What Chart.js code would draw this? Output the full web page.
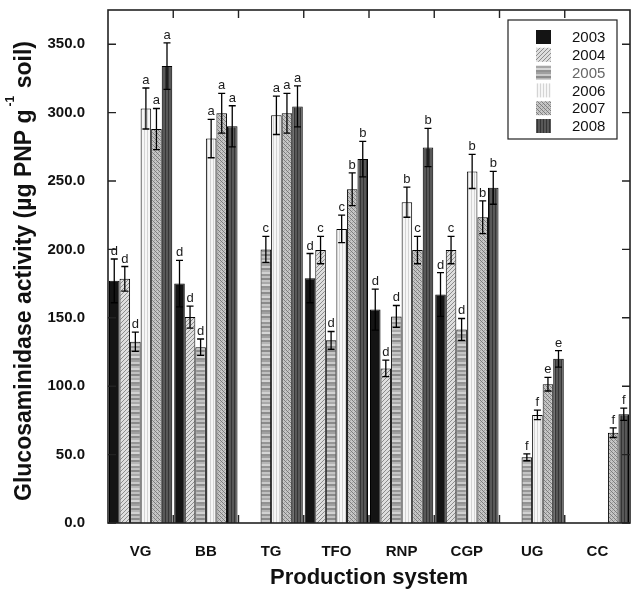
<!DOCTYPE html>
<html>
<head>
<meta charset="utf-8">
<script src="https://cdn.jsdelivr.net/npm/chart.js@4.4.1/dist/chart.umd.min.js"></script>
<style>
html,body{margin:0;padding:0;background:#fff;}
#wrap{width:636px;height:595px;}
</style>
</head>
<body>
<div id="wrap"><canvas id="c" width="636" height="595"></canvas></div>
<script>
const systems=["VG","BB","TG","TFO","RNP","CGP","UG","CC"];
const years=["2003","2004","2005","2006","2007","2008"];

// means (µg PNP g-1 soil)
const v2003=[177,175,null,179,156,167,null,null];
const v2004=[178.5,150.5,null,199.5,113,199.5,null,null];
const v2005=[132.5,128.5,200,133.5,151,141.5,48,null];
const v2006=[303,281,298,215,234.5,257,79,null];
const v2007=[288,299.5,299.5,244,199.5,223.5,101.5,66];
const v2008=[334,290,304.5,266,274.5,245,120,79.5];

// error bar half-heights
const e2003=[16,17,null,18,15,16,null,null];
const e2004=[9,8,null,10,6,10,null,null];
const e2005=[7,6,9.5,6.5,8,8,2.5,null];
const e2006=[15,14,14,10,11,12.5,3.5,null];
const e2007=[15,14.5,14.5,12,10,12,5,3.5];
const e2008=[17,15,15,13,14,12,6,4.5];

// significance letters
const l2003=["d","d","","d","d","d","",""];
const l2004=["d","d","","c","d","c","",""];
const l2005=["d","d","c","d","d","d","f",""];
const l2006=["a","a","a","c","b","b","f",""];
const l2007=["a","a","a","b","c","b","e","f"];
const l2008=["a","a","a","b","b","b","e","f"];

const yTicks=[0,50,100,150,200,250,300,350];

const VALUES=[v2003,v2004,v2005,v2006,v2007,v2008];
const ERRS=[e2003,e2004,e2005,e2006,e2007,e2008];
const LETTERS=[l2003,l2004,l2005,l2006,l2007,l2008];

const FONT="'Liberation Sans', Arial, Helvetica, sans-serif";
const canvas=document.getElementById("c");
const ctx=canvas.getContext("2d");

function makePattern(w,h,draw){
  const c=document.createElement("canvas");
  c.width=w;c.height=h;
  const g=c.getContext("2d");
  draw(g,w,h);
  return ctx.createPattern(c,"repeat");
}

const fills=[
  "#141414",
  makePattern(4,4,(g,w,h)=>{
    g.fillStyle="#dedede";g.fillRect(0,0,w,h);
    g.fillStyle="#8c8c8c";
    for(let i=0;i<4;i++)g.fillRect(i,3-i,1,1);
  }),
  makePattern(4,24,(g,w,h)=>{
    const rows=["#a0a0a0","#cacaca","#8c8c8c","#b6b6b6","#d2d2d2","#969696","#c0c0c0","#8a8a8a","#c4c4c4","#a8a8a8","#d6d6d6","#929292"];
    rows.forEach((col,i)=>{g.fillStyle=col;g.fillRect(0,i*2,w,2);});
  }),
  makePattern(3,1,(g,w,h)=>{
    g.fillStyle="#f6f6f6";g.fillRect(0,0,w,h);
    g.fillStyle="#d4d4d4";g.fillRect(0,0,1,1);
  }),
  makePattern(4,4,(g,w,h)=>{
    g.fillStyle="#c6c6c6";g.fillRect(0,0,w,h);
    g.fillStyle="#7c7c7c";
    for(let i=0;i<4;i++)g.fillRect(i,i,1,1);
    g.fillStyle="#a4a4a4";
    g.fillRect(2,0,1,1);g.fillRect(0,2,1,1);
  }),
  makePattern(3,1,(g,w,h)=>{
    g.fillStyle="#585858";g.fillRect(0,0,w,h);
    g.fillStyle="#353535";g.fillRect(0,0,1,1);
  })
];

const datasets=years.map((yr,i)=>({
  label:yr,
  data:VALUES[i],
  backgroundColor:fills[i],
  borderColor:"#000",
  borderWidth:1,
  barPercentage:1,
  categoryPercentage:0.97
}));

const decorations={
  id:"decorations",
  afterDatasetsDraw(chart){
    const g=chart.ctx;
    const area=chart.chartArea;
    const x=chart.scales.x,y=chart.scales.y;
    g.save();

    // error bars and letters
    g.strokeStyle="#000";
    g.lineWidth=1.3;
    g.fillStyle="#1a1a1a";
    g.font="13px "+FONT;
    g.textAlign="center";
    g.textBaseline="alphabetic";
    datasets.forEach((ds,i)=>{
      const meta=chart.getDatasetMeta(i);
      meta.data.forEach((bar,j)=>{
        const v=VALUES[i][j];
        if(v==null)return;
        const e=ERRS[i][j]||0;
        const cx=bar.x;
        const yt=y.getPixelForValue(v+e),yb=y.getPixelForValue(v-e);
        const cap=3.5;
        g.beginPath();
        g.moveTo(cx,yt);g.lineTo(cx,yb);
        g.moveTo(cx-cap,yt);g.lineTo(cx+cap,yt);
        g.moveTo(cx-cap,yb);g.lineTo(cx+cap,yb);
        g.stroke();
        const lt=LETTERS[i][j];
        if(lt)g.fillText(lt,cx,yt-4);
      });
    });

    // frame
    g.lineWidth=1.6;
    g.strokeStyle="#222";
    g.strokeRect(area.left,area.top,area.right-area.left,area.bottom-area.top);

    // inward ticks
    g.lineWidth=1.4;
    g.beginPath();
    yTicks.forEach(t=>{
      const py=y.getPixelForValue(t);
      g.moveTo(area.left,py);g.lineTo(area.left+8,py);
      g.moveTo(area.right,py);g.lineTo(area.right-8,py);
    });
    for(let i=1;i<systems.length;i++){
      const px=(x.getPixelForValue(i-1)+x.getPixelForValue(i))/2;
      g.moveTo(px,area.top);g.lineTo(px,area.top+8);
      g.moveTo(px,area.bottom);g.lineTo(px,area.bottom-8);
    }
    g.stroke();

    // legend box
    const lx=area.right-122,ly=area.top+10,lw=109,lh=119;
    g.fillStyle="#fff";
    g.fillRect(lx,ly,lw,lh);
    g.lineWidth=1.2;
    g.strokeStyle="#222";
    g.strokeRect(lx,ly,lw,lh);
    g.font="15px "+FONT;
    g.textAlign="left";
    g.textBaseline="middle";
    years.forEach((yr,i)=>{
      const ry=ly+17+i*17.8;
      g.fillStyle=fills[i];
      g.fillRect(lx+28,ry-7,15,14);
      g.fillStyle=i===2?"#666":"#111";
      g.fillText(yr,lx+64,ry+1);
    });

    // y-axis title with superscript
    g.fillStyle="#111";
    g.translate(31,271);
    g.rotate(-Math.PI/2);
    const big="bold 23px "+FONT,small="bold 12px "+FONT;
    const p1="Glucosaminidase activity (\u00b5g PNP g",p2="-1",p3=" soil)";
    g.font=big;const w1=g.measureText(p1).width,w3=g.measureText(p3).width;
    g.font=small;const w2=g.measureText(p2).width+4;
    let sx=-(w1+w2+w3)/2;
    g.textAlign="left";
    g.textBaseline="alphabetic";
    g.font=big;g.fillText(p1,sx,0);sx+=w1;
    g.font=small;g.fillText(p2,sx+3,-17);sx+=w2;
    g.font=big;g.fillText(p3,sx,0);
    g.restore();
  }
};

new Chart(canvas,{
  type:"bar",
  data:{labels:systems,datasets},
  options:{
    responsive:false,
    animation:false,
    layout:{padding:{left:0,right:6,top:10,bottom:0}},
    plugins:{legend:{display:false},tooltip:{enabled:false}},
    scales:{
      x:{
        offset:true,
        grid:{display:false},
        border:{display:false},
        ticks:{color:"#111",font:{family:FONT,size:15,weight:"bold"},padding:12,maxRotation:0},
        title:{display:true,text:"Production system",color:"#111",font:{family:FONT,size:22,weight:"bold"},padding:{top:0,bottom:4}},
        afterFit:s=>{s.height=72;}
      },
      y:{
        min:0,max:375,
        grid:{display:false},
        border:{display:false},
        ticks:{stepSize:50,includeBounds:false,color:"#111",padding:15,font:{family:FONT,size:15,weight:"bold"},callback:v=>Number(v).toFixed(1)},
        afterFit:s=>{s.width=108;s.paddingTop=0;s.paddingBottom=0;}
      }
    }
  },
  plugins:[decorations]
});
</script>
</body>
</html>
